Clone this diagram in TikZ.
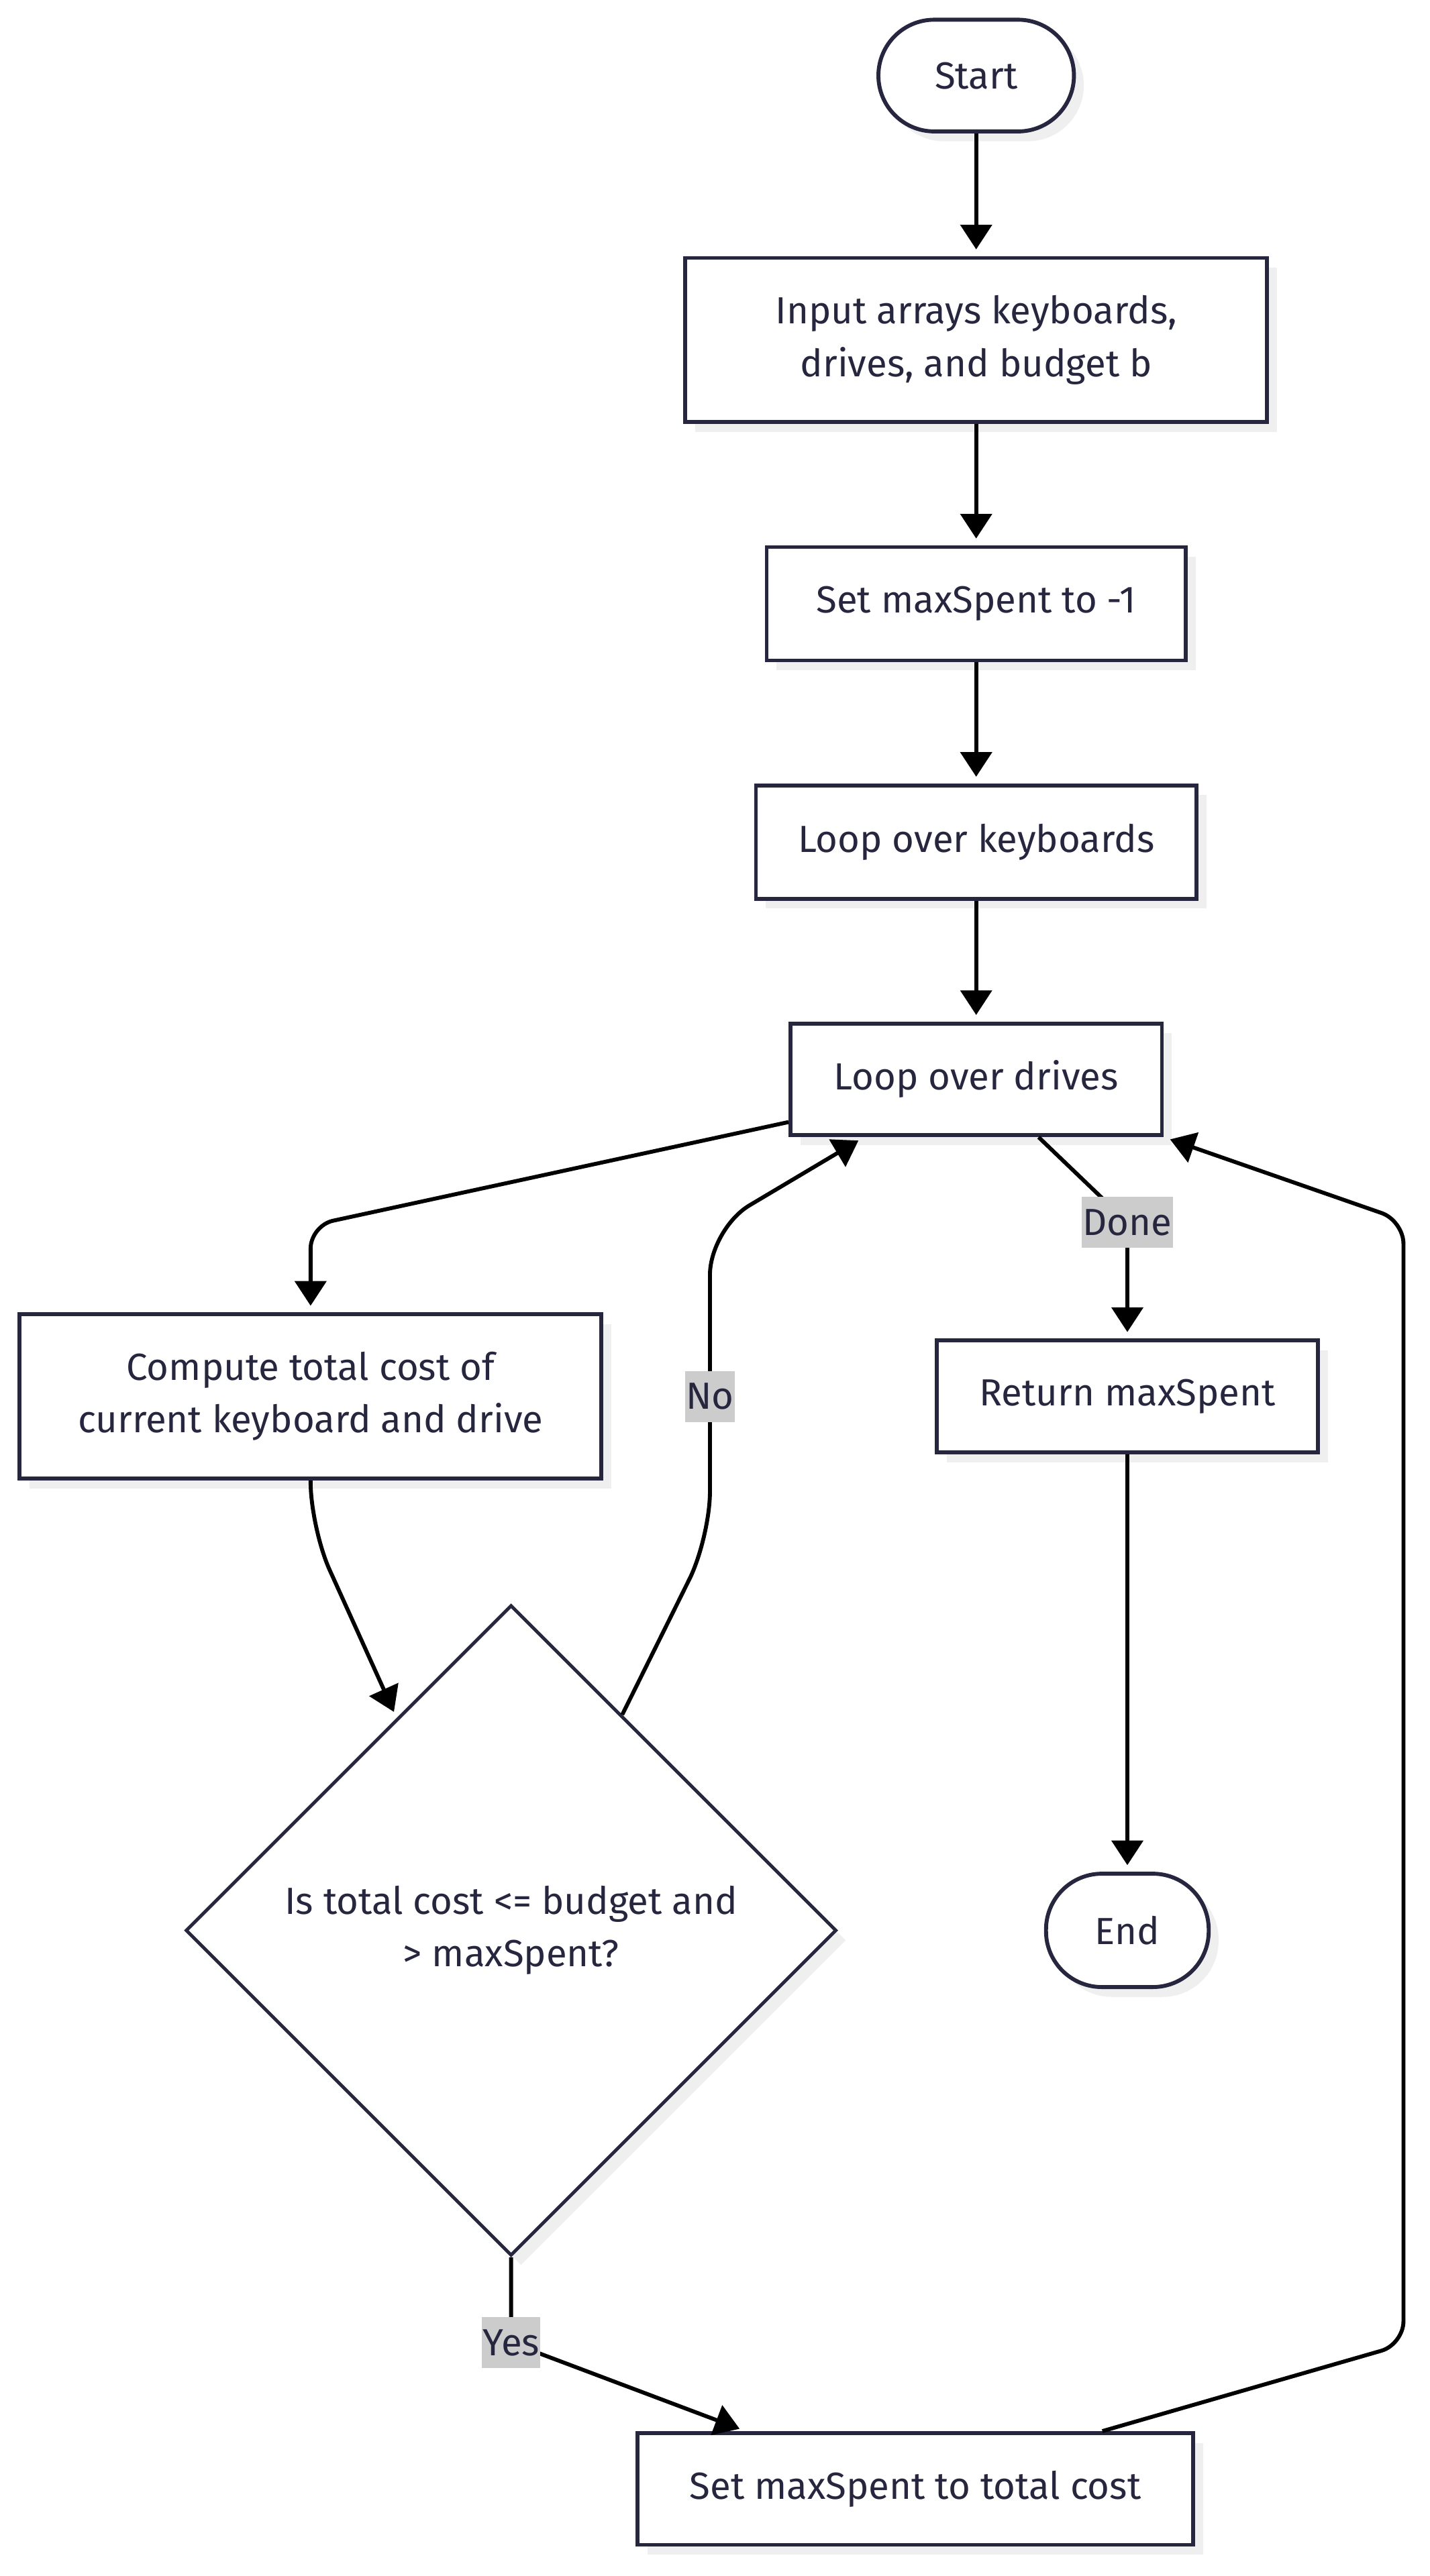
\documentclass[tikz,border=0pt]{standalone}
\usepackage{fontspec}
\setmainfont{Fira Sans}
\usetikzlibrary{arrows.meta, shapes.geometric, shadows, calc, positioning}
\definecolor{fcNavy}{HTML}{27263F}
\definecolor{fcLabel}{HTML}{CCCCCC}
\definecolor{fcShadow}{HTML}{EFEFEF}
\tikzset{
  boxshadow/.style = {drop shadow={shadow xshift=6pt, shadow yshift=-6pt,
                       fill=fcShadow, opacity=1}},
  procbox/.style   = {rectangle, draw=fcNavy, line width=2.4pt, fill=white,
                      text=fcNavy, inner sep=0pt, align=center, boxshadow,
                      font=\fontsize{23}{32}\selectfont},
  termbox/.style   = {procbox, rounded corners=34pt},
  decbox/.style    = {diamond, aspect=1, draw=fcNavy, line width=2pt,
                      fill=white, text=fcNavy, inner sep=0pt, align=center,
                      boxshadow, minimum size=396pt,
                      font=\fontsize{23}{32}\selectfont},
  flowline/.style  = {-{Triangle[length=15pt, width=19pt]}, line width=2.4pt,
                      black, rounded corners=14pt, shorten >=4pt},
  elbl/.style      = {fill=fcLabel, text=fcNavy, inner xsep=0.5pt, inner ysep=0pt,
                      minimum height=31pt, rounded corners=0pt,
                      font=\fontsize{23}{24}\selectfont},
}

\begin{document}
\begin{tikzpicture}[x=1pt, y=-1pt]
  \useasboundingbox (0,0) rectangle (870,1568);

  % main column
  \node[termbox, minimum width=119pt, minimum height=68pt] (start) at (594,46) {Start};
  \node[procbox, minimum width=354pt, minimum height=100pt] (input) at (594,207)
       {Input arrays keyboards,\\drives, and budget b};
  \node[procbox, minimum width=255pt, minimum height=69pt] (setneg) at (594,367.5)
       {Set maxSpent to -1};
  \node[procbox, minimum width=268pt, minimum height=69pt] (kbd) at (594,512.5)
       {Loop over keyboards};
  \node[procbox, minimum width=226pt, minimum height=68pt] (drives) at (594,657)
       {Loop over drives};

  % inner loop
  \node[procbox, minimum width=354pt, minimum height=100pt] (compute) at (189,850)
       {Compute total cost of\\current keyboard and drive};
  \node[decbox] (dec) at (311,1175) {Is total cost <= budget and\\> maxSpent?};
  \node[procbox, minimum width=338pt, minimum height=68pt] (settot) at (557,1515)
       {Set maxSpent to total cost};

  % exit
  \node[procbox, minimum width=232pt, minimum height=68pt] (ret) at (686,850)
       {Return maxSpent};
  \node[termbox, minimum width=99pt, minimum height=69pt] (endn) at (686,1175) {End};

  \draw[flowline] (start) -- (input);
  \draw[flowline] (input) -- (setneg);
  \draw[flowline] (setneg) -- (kbd);
  \draw[flowline] (kbd) -- (drives);

  \draw[flowline] ([yshift=-26pt]drives.west) -- (189,746) -- (compute);
  \draw[flowline, rounded corners=28pt] (compute) -- (189,930)
        -- ($(dec.north)!0.35!(dec.west)$);
  \draw[flowline, rounded corners=28pt] ($(dec.north)!0.34!(dec.east)$) -- (432,936)
        -- node[elbl, pos=0.457] (nolbl) {No} (432,748)
        -- ([xshift=46pt]drives.south west);
  \draw[flowline] (dec.south) -- (311,1426) node[elbl] (yeslbl) {Yes}
        -- ([xshift=67pt]settot.north west);
  \draw[flowline] ([xshift=284pt]settot.north west) -- (854,1427) -- (854,743)
        -- (drives.south east);

  \draw[flowline] ([xshift=38pt]drives.south) -- (686,744) node[elbl] (donelbl) {Done}
        -- (ret);
  \draw[flowline] (ret) -- (endn);
\end{tikzpicture}
\end{document}
